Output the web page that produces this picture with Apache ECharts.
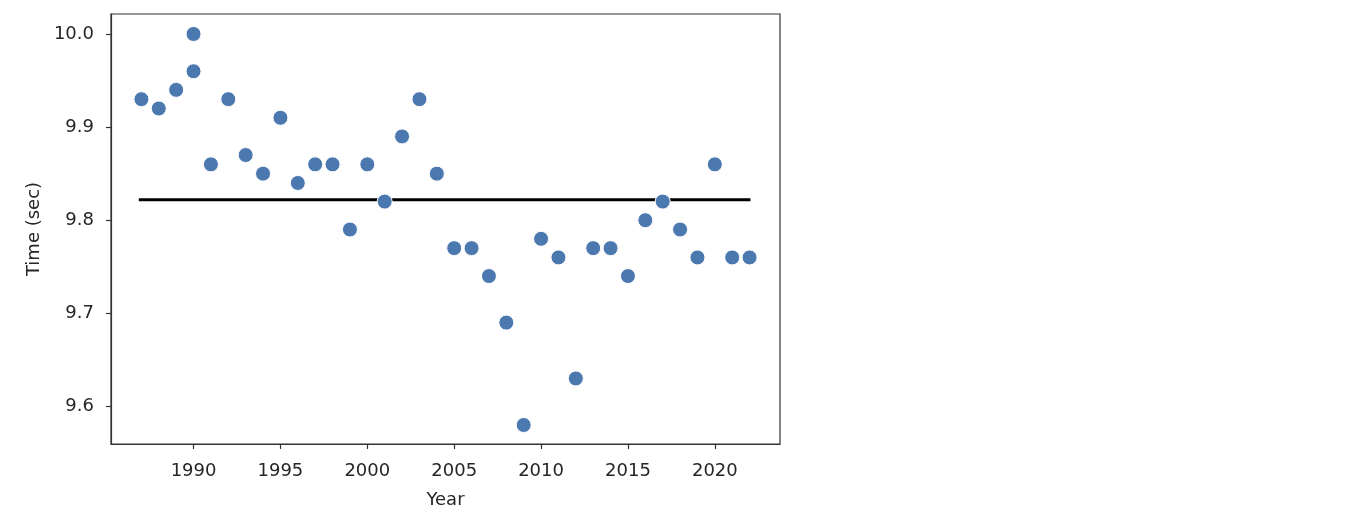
<!DOCTYPE html>
<html>
<head>
<meta charset="utf-8">
<script src="https://cdn.jsdelivr.net/npm/echarts@6/dist/echarts.min.js"></script>
<style>html,body{margin:0;padding:0;background:#fff}#c{width:1360px;height:530px}</style>
</head>
<body>
<div id="c"></div>
<script>
const years = [1987,1988,1989,1990,1990,1991,1992,1993,1994,1995,1996,1997,1998,1999,2000,2001,2002,2003,2004,2005,2006,2007,2008,2009,2010,2011,2012,2013,2014,2015,2016,2017,2018,2019,2020,2021,2022];
const times = [9.93,9.92,9.94,10.00,9.96,9.86,9.93,9.87,9.85,9.91,9.84,9.86,9.86,9.79,9.86,9.82,9.89,9.93,9.85,9.77,9.77,9.74,9.69,9.58,9.78,9.76,9.63,9.77,9.77,9.74,9.80,9.82,9.79,9.76,9.86,9.76,9.76];
const meanTime = 9.822;
const meanStart = 1986.85, meanEnd = 2022.05;
const xTicks = [1990,1995,2000,2005,2010,2015,2020];
const yTicks = [9.6,9.7,9.8,9.9,10.0];
const xLabel = 'Year', yLabel = 'Time (sec)';

const font = 'DejaVu Sans';
const chart = echarts.init(document.getElementById('c'));
chart.setOption({
  animation: false,
  backgroundColor: '#fff',
  grid: {left: 111, right: 580, top: 14, bottom: 86, show: true, borderColor: '#333', borderWidth: 1.2, backgroundColor: 'transparent'},
  xAxis: {
    type: 'value', min: 1985.25, max: 2023.75,
    name: xLabel, nameLocation: 'middle', nameGap: 47,
    nameTextStyle: {fontFamily: font, fontSize: 18, color: '#262626'},
    axisLine: {show: true, lineStyle: {color: '#333', width: 1.2}},
    axisTick: {show: true, length: 5, inside: false, customValues: xTicks, lineStyle: {color: '#333', width: 1.2}},
    axisLabel: {customValues: xTicks, fontFamily: font, fontSize: 18, color: '#262626', margin: 18, formatter: v => String(v)},
    splitLine: {show: false}
  },
  yAxis: {
    type: 'value', min: 9.5596, max: 10.0215,
    name: yLabel, nameLocation: 'middle', nameGap: 68, nameRotate: 90,
    nameTextStyle: {fontFamily: font, fontSize: 18, color: '#262626'},
    axisLine: {show: true, lineStyle: {color: '#333', width: 1.2}},
    axisTick: {show: true, length: 5, inside: false, customValues: yTicks, lineStyle: {color: '#333', width: 1.2}},
    axisLabel: {customValues: yTicks, fontFamily: font, fontSize: 18, color: '#262626', margin: 17, formatter: v => v.toFixed(1)},
    splitLine: {show: false}
  },
  series: [
    {
      type: 'line', data: [[meanStart, meanTime],[meanEnd, meanTime]],
      symbol: 'none', lineStyle: {color: '#000', width: 3}, z: 2, silent: true
    },
    {
      type: 'scatter', data: years.map((y,i) => [y, times[i]]),
      symbolSize: 15, itemStyle: {color: '#4C78B0', borderColor: '#fff', borderWidth: 1, opacity: 1}, z: 3
    }
  ]
});
</script>
</body>
</html>
